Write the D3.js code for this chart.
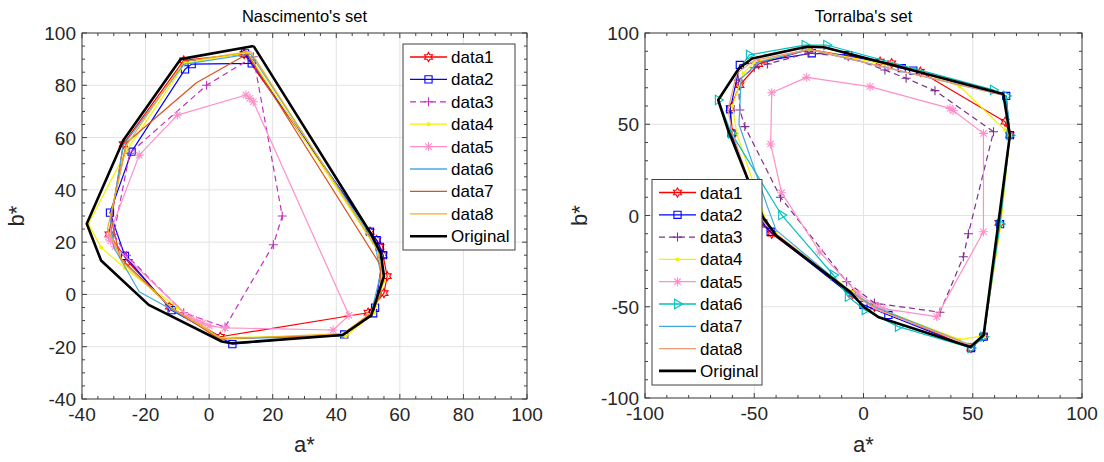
<!DOCTYPE html>
<html><head><meta charset="utf-8">
<script src="https://cdn.jsdelivr.net/npm/d3@7"></script>
<style>
html,body{margin:0;padding:0;background:#fff;}
svg{display:block;font-family:Arial,"Liberation Sans",Helvetica,sans-serif;}
</style></head>
<body>
<script>
// ---------- DATA (a*, b*) ----------
const seriesNames = ["data1","data2","data3","data4","data5","data6","data7","data8","Original"];

// Nascimento's set
const nasData1 = [[11,92],[-8,89.5],[-27,57.5],[-31.5,23],[-25.5,12.5],[-12.5,-4.7],[3.5,-16.2],[50,-7],[55,0.5],[56,7],[54.7,15],[53.7,18.2],[52.7,20.8],[50.6,24],[11,92]];
const nasData2 = [[11.3,92.2],[13.4,88.4],[-5.5,88.1],[-7.6,86.1],[-24.4,54.6],[-31.2,31.3],[-26.5,14.7],[-11.8,-6],[7.3,-19],[42.5,-15.3],[51.6,-7.2],[52.2,-5.1],[54.7,15],[53.7,18.2],[52.7,20.8],[50.6,24],[11.3,92.2]];
const nasData3 = [[13.9,90.9],[-0.8,80],[-25,54],[-30,23],[-26,15],[-8,-7],[5,-12.5],[20.2,19],[23,30],[13.9,90.9]];
const nasData4 = [[12,92.5],[-7.5,88.5],[-26,55],[-38,27],[-34,18],[-26.5,10],[-10,-5],[3,-16.5],[43,-16],[52,-7],[55,5],[54,15],[12,92.5]];
const nasData5 = [[11.6,76.3],[-10,68.6],[-22,53.3],[-31.7,22],[-31,20.5],[-29.6,18.3],[-6,-9],[-4,-10],[-2,-11],[0,-12],[5,-12.8],[39,-13.6],[44,-8],[13.9,73.7],[12.8,75],[11.6,76.3]];
const nasData6 = [[13,92],[-8,88],[-27,57],[-31,28],[-30,18],[-22,1],[-10,-7],[4,-17],[42,-16],[51,-7],[54,8],[52,20],[13,92]];
const nasData7 = [[12,92],[-4,81],[-26,58],[-31,30],[-28,14],[-12,-5],[3,-17],[42,-15.5],[51,-7],[54,0],[54,11],[12,92]];
const nasData8 = [[13,93],[-8,89],[-26,57],[-32,25],[-27,12],[-12,-5],[4,-17],[42,-15],[51,-7],[55,5],[53,17],[13,93]];
const nasOriginal = [[14,95],[-9,90],[-27,59],[-38.5,27],[-34,13],[-19,-4],[4,-18],[7,-18.7],[42,-15.5],[51,-8],[55,7],[54,15.7],[51,23],[14,95]];

// Torralba's set
const torData1 = [[7.6,84.3],[-25,91],[-48,83],[-56.6,71.5],[-61,58.7],[-60,45],[-47,-4],[-42,-10],[-5,-43],[5,-50],[49.2,-72.6],[54.9,-66.4],[62,-4],[67,44.1],[64.8,51.4],[26,78.8],[12.9,83.4],[7.6,84.3]];
const torData2 = [[-23.7,88.9],[-56.6,82.5],[-61,58.2],[-60.4,45],[-45.9,-4.3],[-42.5,-8.9],[0,-49],[11.4,-54.5],[49.2,-72.6],[55,-66.4],[62.5,-4.7],[67,44],[65.3,65.5],[22.8,79.4],[17.5,80.7],[-7,87.9],[-23.7,88.9]];
const torData3 = [[-7,87],[-25,89],[-44,83],[-50,81],[-57.3,74.2],[-56.6,57.8],[-54.3,48.7],[-38,10],[-7.7,-36.3],[5,-48],[35,-53],[45.7,-22.6],[48,-10],[59.5,45.9],[32.7,68.4],[19.5,75.2],[9.8,79.7],[-7,87]];
const torData4 = [[-25,91],[-50,84],[-55,78],[-60,60],[-58,45],[-44,-5],[-40,-10],[-5,-42],[5,-50],[44,-68],[55,-66],[63,-4],[67,44],[64.8,46.8],[44.2,70.6],[26,79],[-25,91]];
const torData5 = [[-26,75.7],[-42,67.3],[-42.5,39.2],[-37.5,12.5],[-20,-20],[-2.4,-43],[6,-49.6],[9,-51],[33.5,-55.4],[54.9,-8.9],[54.9,45],[41,57.5],[39.6,58.7],[3,70.6],[-26,75.7]];
const torData6 = [[-16.9,93.4],[-26.8,93.4],[-52.3,88],[-66.5,63.3],[-60.4,45],[-37.5,0.3],[-13.8,-32.6],[-7,-44.5],[0.7,-51.8],[15.9,-60.9],[49.2,-72.6],[55,-66.4],[62.5,-4.7],[67,44],[65.3,65.5],[59.4,68.8],[-16.9,93.4]];
const torData7 = [[-25,91],[-48,84],[-56,75],[-57,50],[-44,5],[-40,-8],[-8,-40],[5,-50],[49,-71],[55,-66],[62,-4],[67,44],[64,66],[-25,91]];
const torData8 = [[-25,91],[-50,85],[-58,78],[-62,58],[-60,45],[-46,-3],[-40,-10],[-6,-42],[5,-51],[49,-71],[55,-66],[62,-4],[67,44],[64,66],[-25,91]];
const torOriginal = [[-18,92.2],[-26,92.5],[-51,86],[-57,80.7],[-66.5,63.3],[-62,47],[-46,-1],[-40,-11],[-6,-42],[0,-50],[7,-55.8],[49,-72],[55,-65.5],[67,44],[64,66.6],[-18,92.2]];

// tick values
const nasXTicks = [-40,-20,0,20,40,60,80,100];
const nasYTicks = [-40,-20,0,20,40,60,80,100];
const torXTicks = [-100,-50,0,50,100];
const torYTicks = [-100,-50,0,50,100];

// ---------- STYLES ----------
const nasStyles = [
  {color:"#ff0000", marker:"hexagram"},
  {color:"#0000ff", marker:"square"},
  {color:"#c030c0", marker:"plus", dash:"6,4"},
  {color:"#f2f200", marker:"dot"},
  {color:"#ff8fc8", marker:"asterisk"},
  {color:"#4aa8e0", marker:null},
  {color:"#d95319", marker:null},
  {color:"#edb120", marker:null},
  {color:"#000000", marker:null, width:2.6}
];
const torStyles = [
  {color:"#ff0000", marker:"hexagram"},
  {color:"#0000ff", marker:"square"},
  {color:"#7e2f8e", marker:"plus", dash:"6,4"},
  {color:"#f2f200", marker:"dot"},
  {color:"#ff8fc8", marker:"asterisk"},
  {color:"#00bfbf", marker:"triright"},
  {color:"#3fa9e0", marker:null},
  {color:"#f29a76", marker:null},
  {color:"#000000", marker:null, width:2.6}
];

const W = 1104, H = 462;
const svg = d3.select("body").append("svg").attr("width", W).attr("height", H);

function markerPath(type){
  const p = d3.path();
  if(type==="hexagram"){
    const R=4.6, r=2.6;
    for(let i=0;i<12;i++){
      const ang = -Math.PI/2 + i*Math.PI/6;
      const rr = i%2===0?R:r;
      const x = rr*Math.cos(ang), y = rr*Math.sin(ang);
      if(i===0) p.moveTo(x,y); else p.lineTo(x,y);
    }
    p.closePath();
  } else if(type==="square"){
    p.rect(-3.6,-3.6,7.2,7.2);
  } else if(type==="plus"){
    p.moveTo(-4.5,0); p.lineTo(4.5,0); p.moveTo(0,-4.5); p.lineTo(0,4.5);
  } else if(type==="asterisk"){
    const r=4.5, d=3.2;
    p.moveTo(-r,0); p.lineTo(r,0); p.moveTo(0,-r); p.lineTo(0,r);
    p.moveTo(-d,-d); p.lineTo(d,d); p.moveTo(-d,d); p.lineTo(d,-d);
  } else if(type==="triright"){
    const r=5.2;
    p.moveTo(r,0); p.lineTo(-r*0.55,-r*0.9); p.lineTo(-r*0.55,r*0.9); p.closePath();
  } else if(type==="dot"){
    p.arc(0,0,1.4,0,2*Math.PI);
  }
  return p.toString();
}

function drawMarker(g, type, color, x, y){
  if(!type) return;
  g.append("path").attr("d", markerPath(type))
    .attr("transform", `translate(${x},${y})`)
    .attr("fill", type==="dot"?color:"none")
    .attr("stroke", color).attr("stroke-width", 1.1);
}

function drawChart(cfg){
  const x = d3.scaleLinear().domain(cfg.xDomain).range([cfg.left, cfg.right]);
  const y = d3.scaleLinear().domain(cfg.yDomain).range([cfg.bottom, cfg.top]);
  const g = svg.append("g");

  // grid
  g.append("g").selectAll("line").data(cfg.xTicks).join("line")
    .attr("x1", d=>x(d)).attr("x2", d=>x(d)).attr("y1", cfg.top).attr("y2", cfg.bottom)
    .attr("stroke", "#e3e3e3").attr("stroke-width", 1);
  g.append("g").selectAll("line").data(cfg.yTicks).join("line")
    .attr("y1", d=>y(d)).attr("y2", d=>y(d)).attr("x1", cfg.left).attr("x2", cfg.right)
    .attr("stroke", "#e3e3e3").attr("stroke-width", 1);

  // series
  const line = d3.line().x(d=>x(d[0])).y(d=>y(d[1]));
  const clip = "clip"+cfg.id;
  svg.append("defs").append("clipPath").attr("id", clip).append("rect")
    .attr("x", cfg.left).attr("y", cfg.top).attr("width", cfg.right-cfg.left).attr("height", cfg.bottom-cfg.top);
  const sg = g.append("g").attr("clip-path", `url(#${clip})`);
  cfg.series.forEach((data, i) => {
    const st = cfg.styles[i];
    sg.append("path").datum(data).attr("d", line)
      .attr("fill", "none").attr("stroke", st.color)
      .attr("stroke-width", st.width || 1.2)
      .attr("stroke-dasharray", st.dash || null)
      .attr("stroke-linejoin", "round");
    if(st.marker){
      data.slice(0, data.length-1).forEach(d => drawMarker(sg, st.marker, st.color, x(d[0]), y(d[1])));
    }
  });

  // axes box
  const axColor = "#404040";
  g.append("rect").attr("x", cfg.left).attr("y", cfg.top)
    .attr("width", cfg.right-cfg.left).attr("height", cfg.bottom-cfg.top)
    .attr("fill", "none").attr("stroke", axColor).attr("stroke-width", 1);

  // ticks (inward, all sides)
  const minorX = d3.range(cfg.xDomain[0], cfg.xDomain[1]+0.001, cfg.xMinor);
  const minorY = d3.range(cfg.yDomain[0], cfg.yDomain[1]+0.001, cfg.yMinor);
  const tk = g.append("g").attr("stroke", axColor).attr("stroke-width", 1);
  minorX.forEach(v => {
    const L = cfg.xTicks.includes(v) ? 5 : 3;
    tk.append("line").attr("x1", x(v)).attr("x2", x(v)).attr("y1", cfg.bottom).attr("y2", cfg.bottom-L);
    tk.append("line").attr("x1", x(v)).attr("x2", x(v)).attr("y1", cfg.top).attr("y2", cfg.top+L);
  });
  minorY.forEach(v => {
    const L = cfg.yTicks.includes(v) ? 5 : 3;
    tk.append("line").attr("y1", y(v)).attr("y2", y(v)).attr("x1", cfg.left).attr("x2", cfg.left+L);
    tk.append("line").attr("y1", y(v)).attr("y2", y(v)).attr("x1", cfg.right).attr("x2", cfg.right-L);
  });

  // tick labels
  g.append("g").selectAll("text").data(cfg.xTicks).join("text")
    .attr("x", d=>x(d)).attr("y", cfg.bottom+22)
    .attr("text-anchor", "middle").attr("font-size", 19).attr("fill", "#262626")
    .text(d=>d);
  g.append("g").selectAll("text").data(cfg.yTicks).join("text")
    .attr("x", cfg.left-6).attr("y", d=>y(d)+7)
    .attr("text-anchor", "end").attr("font-size", 19).attr("fill", "#262626")
    .text(d=>d);

  // title & labels
  const cx = (cfg.left+cfg.right)/2;
  g.append("text").attr("x", cx).attr("y", 22).attr("text-anchor", "middle")
    .attr("font-size", 16.5).attr("fill", "#000").text(cfg.title);
  g.append("text").attr("x", cx).attr("y", 452).attr("text-anchor", "middle")
    .attr("font-size", 22).attr("fill", "#262626").text("a*");
  g.append("text").attr("transform", `translate(${cfg.left-58},${(cfg.top+cfg.bottom)/2}) rotate(-90)`)
    .attr("text-anchor", "middle").attr("font-size", 22).attr("fill", "#262626").text("b*");

  // legend
  const lg = cfg.legend;
  const leg = g.append("g");
  leg.append("rect").attr("x", lg.x).attr("y", lg.y).attr("width", lg.w).attr("height", lg.h)
    .attr("fill", "#fff").attr("stroke", "#404040").attr("stroke-width", 1);
  seriesNames.forEach((name, i) => {
    const st = cfg.styles[i];
    const yy = lg.y + 13 + i*lg.step;
    leg.append("line").attr("x1", lg.x+7).attr("x2", lg.x+44).attr("y1", yy).attr("y2", yy)
      .attr("stroke", st.color).attr("stroke-width", st.width || 1.3)
      .attr("stroke-dasharray", st.dash || null);
    drawMarker(leg, st.marker, st.color, lg.x+25.5, yy);
    leg.append("text").attr("x", lg.x+48).attr("y", yy+6)
      .attr("font-size", 17).attr("fill", "#000").text(name);
  });
}

drawChart({
  id:"nas", title:"Nascimento's set",
  left:82, right:527, top:33, bottom:399,
  xDomain:[-40,100], yDomain:[-40,100], xTicks:nasXTicks, yTicks:nasYTicks, xMinor:5, yMinor:5,
  series:[nasData1,nasData2,nasData3,nasData4,nasData5,nasData6,nasData7,nasData8,nasOriginal],
  styles:nasStyles,
  legend:{x:403, y:44, w:112, h:206, step:22.4}
});
drawChart({
  id:"tor", title:"Torralba's set",
  left:645, right:1082, top:33, bottom:398,
  xDomain:[-100,100], yDomain:[-100,100], xTicks:torXTicks, yTicks:torYTicks, xMinor:10, yMinor:10,
  series:[torData1,torData2,torData3,torData4,torData5,torData6,torData7,torData8,torOriginal],
  styles:torStyles,
  legend:{x:652, y:179.5, w:110, h:205.5, step:22.3}
});
</script>
</body></html>
